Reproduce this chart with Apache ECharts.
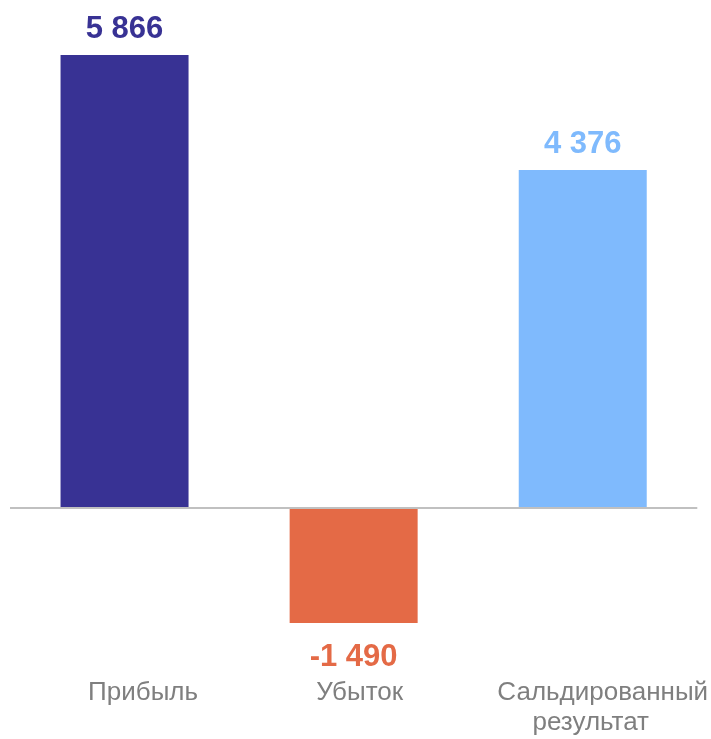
<!DOCTYPE html>
<html>
<head>
<meta charset="utf-8">
<script src="https://cdn.jsdelivr.net/npm/echarts@6/dist/echarts.min.js"></script>
<style>
html,body{margin:0;padding:0;background:#fff;}
#chart{width:711px;height:739px;}
</style>
</head>
<body>
<div id="chart"></div>
<script>
const categories = ['Прибыль', 'Убыток', 'Сальдированный\nрезультат'];
const values = [5866, -1490, 4376];
const barColors = ['#383294', '#E46A46', '#7FBAFD'];

function fmt(v) {
  const s = Math.abs(v).toString().replace(/\B(?=(\d{3})+(?!\d))/g, ' ');
  return (v < 0 ? '-' : '') + s;
}

// small horizontal nudges of category text lines (style only)
const labelShift = [[37], [12], [40, 16]];
const FONT = 'Liberation Sans, Arial, sans-serif';
const rich = {};
labelShift.forEach((arr, i) => arr.forEach((p, j) => {
  rich['s' + i + '_' + j] = {
    color: '#7f7f7f', fontFamily: FONT, fontSize: 26, lineHeight: 30,
    padding: [0, 0, 0, p]
  };
}));

const chart = echarts.init(document.getElementById('chart'), null, {renderer: 'canvas'});
chart.setOption({
  animation: false,
  backgroundColor: '#ffffff',
  grid: {left: 10, right: 13, top: 55, bottom: 116, containLabel: false},
  xAxis: {
    type: 'category',
    data: categories,
    axisLine: {show: false, onZero: false},
    axisTick: {show: false},
    axisLabel: {
      color: '#7f7f7f',
      fontFamily: FONT,
      fontSize: 26,
      lineHeight: 30,
      margin: 55,
      interval: 0,
      formatter: (val, idx) => val.split('\n').map((line, j) => '{s' + idx + '_' + j + '|' + line + '}').join('\n'),
      rich: rich
    }
  },
  yAxis: {
    type: 'value',
    min: -1490,
    max: 5866,
    show: false,
    splitLine: {show: false}
  },
  series: [{
    type: 'bar',
    barWidth: 128,
    data: values.map((v, i) => ({
      value: v,
      itemStyle: {color: barColors[i]},
      label: {
        show: true,
        position: v < 0 ? 'bottom' : 'top',
        distance: v < 0 ? 19 : 10,
        color: barColors[i],
        fontWeight: 'bold',
        fontSize: 31,
        fontFamily: FONT,
        formatter: () => fmt(v)
      }
    })),
    markLine: {
      silent: true,
      symbol: ['none', 'none'],
      label: {show: false},
      lineStyle: {color: '#c0c0c0', width: 2, type: 'solid'},
      data: [{yAxis: 0}]
    }
  }]
});
</script>
</body>
</html>
